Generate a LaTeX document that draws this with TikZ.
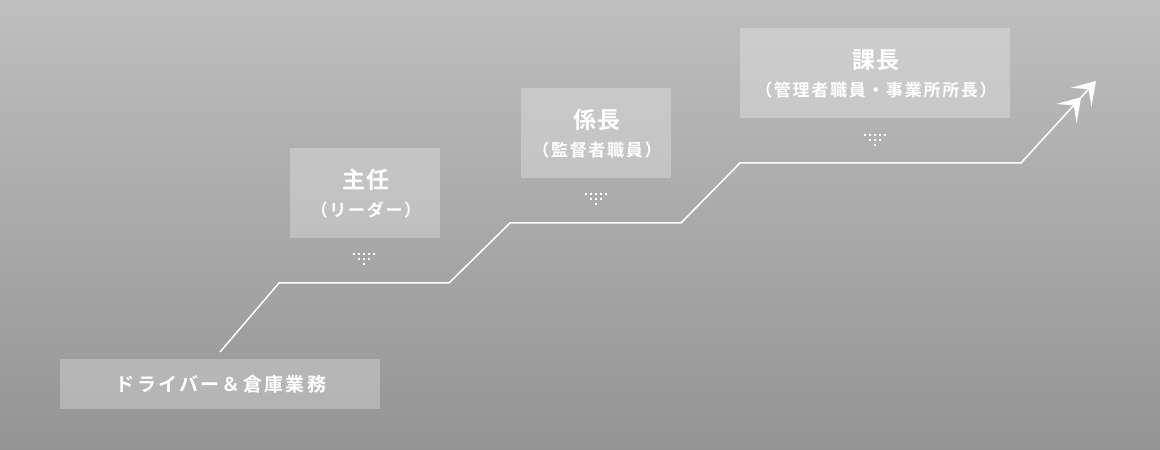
\documentclass[tikz,border=0pt]{standalone}
\usepackage{fontspec}
\usetikzlibrary{arrows.meta,calc}
\newfontfamily\jptitle{Noto Sans CJK JP}[UprightFont={* Bold},LetterSpace=8]
\newfontfamily\jpsub{Noto Sans CJK JP}[UprightFont={* Bold},LetterSpace=10]
\newfontfamily\jpbase{Noto Sans CJK JP}[UprightFont={* Bold},LetterSpace=12]
\definecolor{bgtop}{RGB}{190,190,190}
\definecolor{bgbot}{RGB}{148,148,148}
\tikzset{
  stagebox/.style={fill=white, fill opacity=0.27, draw=none, inner sep=0pt},
  titletext/.style={text=white, font=\jptitle\fontsize{23}{23}\selectfont, inner sep=0pt},
  subtext/.style={text=white, font=\jpsub\fontsize{17}{17}\selectfont, inner sep=0pt},
  basetext/.style={text=white, font=\jpbase\fontsize{19}{19}\selectfont, inner sep=0pt},
  stairline/.style={draw=white, line width=1.5pt, line join=miter},
  downdots/.pic={
    \foreach \xx in {-10,-5,0,5,10} \fill[white] (\xx-1.25,-1.25) rectangle ++(2.5,2.5);
    \foreach \xx in {-5,0,5} \fill[white] (\xx-1.25,-6.25) rectangle ++(2.5,2.5);
    \fill[white] (-1.25,-11.25) rectangle ++(2.5,2.5);
  }
}
\begin{document}
\begin{tikzpicture}[x=1pt,y=1pt]
  \shade[top color=bgtop, bottom color=bgbot] (0,0) rectangle (1160,450);
  \useasboundingbox (0,0) rectangle (1160,450);

  % boxes
  \node[stagebox, minimum width=320, minimum height=50] (driver) at (220,66) {};
  \node[stagebox, minimum width=150, minimum height=90] (shunin) at (365,257) {};
  \node[stagebox, minimum width=150, minimum height=90] (kakari) at (596,317) {};
  \node[stagebox, minimum width=270, minimum height=90] (kacho) at (875,377) {};

  % texts
  \node[basetext] (driver-t) at ($(driver.center)+(1,0)$) {ドライバー＆倉庫業務};
  \node[titletext] (shunin-t) at ($(shunin.center)+(1,13)$) {主任};
  \node[subtext] (shunin-s) at ($(shunin.center)+(1,-17)$) {（リーダー）};
  \node[titletext] (kakari-t) at ($(kakari.center)+(1,13)$) {係長};
  \node[subtext] (kakari-s) at ($(kakari.center)+(1,-17)$) {（監督者職員）};
  \node[titletext] (kacho-t) at ($(kacho.center)+(1,13)$) {課長};
  \node[subtext] (kacho-s) at ($(kacho.center)+(1,-17)$) {（管理者職員・事業所所長）};

  % dots
  \pic at ($(shunin.south)+(-1,-16)$) {downdots};
  \pic at ($(kakari.south)+(0,-16)$) {downdots};
  \pic at ($(kacho.south)+(0,-17)$) {downdots};

  % stair line
  \coordinate (p0) at (220,98);
  \coordinate (p1) at (279,167);
  \coordinate (p2) at (449,167);
  \coordinate (p3) at (510,227);
  \coordinate (p4) at (681,227);
  \coordinate (p5) at (740,287);
  \coordinate (p6) at (1021,287);
  \coordinate (tip) at (1096,369);
  \draw[stairline, -{Stealth[length=22pt,width=28pt,inset=11pt] Stealth[length=22pt,width=28pt,inset=11pt]}]
    (p0) -- (p1) -- (p2) -- (p3) -- (p4) -- (p5) -- (p6) -- (tip);
\end{tikzpicture}
\end{document}
